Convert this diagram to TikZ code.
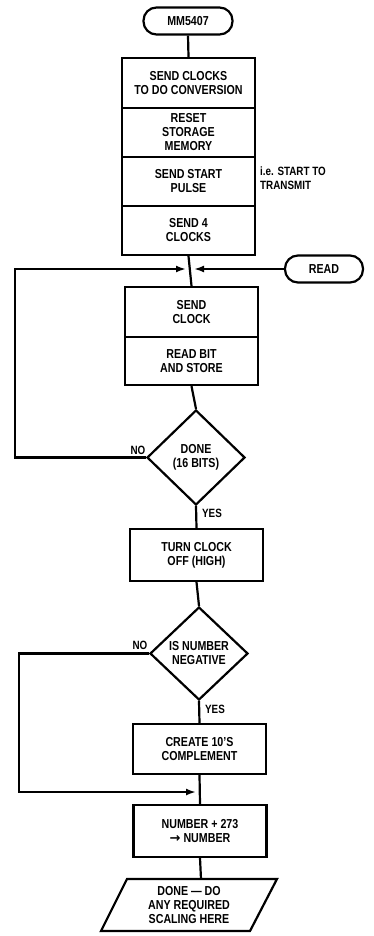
\documentclass[tikz,border=0pt]{standalone}
\usepackage{fontspec}
\setmainfont{Liberation Sans}[FakeStretch=0.82]
\newfontfamily\symfont{DejaVu Sans}
\usetikzlibrary{shapes.geometric,arrows.meta}
\begin{document}
\begin{tikzpicture}[x=1pt,y=-1pt,
  every node/.style={font=\bfseries\fontsize{13}{14}\selectfont, align=center, inner sep=1pt},
  box/.style={draw, line width=2.2pt, minimum width=133pt, inner sep=2pt},
  term/.style={draw, line width=2.2pt, rounded corners=13pt, minimum height=27pt},
  dec/.style={draw, diamond, line width=2.2pt, inner sep=0pt},
  link/.style={line width=2.2pt},
  arr/.style={line width=2.2pt, -{Latex[length=10pt,width=7pt]}, shorten >=4pt},
  lbl/.style={font=\bfseries\fontsize{12}{14}\selectfont}
]
\useasboundingbox (0,0) rectangle (373,936);

\node[term, minimum width=89pt] (start) at (188,21) {MM5407};
\node[box, minimum height=50pt] (b1) at (188.5,83) {SEND CLOCKS\\TO DO CONVERSION};
\node[box, minimum height=49pt] (b2) at (188.5,132.5) {RESET\\STORAGE\\MEMORY};
\node[box, minimum height=49pt] (b3) at (188.5,181.5) {SEND START\\PULSE};
\node[box, minimum height=49pt] (b4) at (188.5,230.5) {SEND 4\\CLOCKS};
\node[lbl, align=left, anchor=north west] (note) at (259,166) {i.e. START TO\\TRANSMIT};

\coordinate (m1) at (190,269);
\node[term, minimum width=78pt] (read) at (324,269) {READ};

\node[box, minimum height=50pt] (b5) at (191.5,312) {SEND\\CLOCK};
\node[box, minimum height=48pt] (b6) at (191.5,361) {READ BIT\\AND STORE};

\node[dec, minimum width=98pt, minimum height=95pt] (d1) at (196,457.5) {DONE\\(16 BITS)};
\node[lbl] (no1) at (138,450) {NO};
\node[lbl] (yes1) at (212,513) {YES};

\node[box, minimum height=52pt] (b7) at (196.5,555) {TURN CLOCK\\OFF (HIGH)};

\node[dec, minimum width=98pt, minimum height=93pt] (d2) at (199,653.5) {IS NUMBER\\NEGATIVE};
\node[lbl] (no2) at (140,645) {NO};
\node[lbl] (yes2) at (215,709) {YES};

\node[box, minimum height=50pt] (b8) at (199.5,749) {CREATE 10'S\\COMPLEMENT};
\coordinate (m2) at (200,792);
\node[box, minimum height=52pt] (b9) at (200,831) {NUMBER + 273\\{\symfont\bfseries →} NUMBER};

\draw[link] (127,879) -- (277,879) -- (250,931) -- (101,931) -- cycle;
\coordinate (ptop) at (201,879);
\node (done) at (189,905) {DONE — DO\\ANY REQUIRED\\SCALING HERE};

% connectors
\draw[link] (start.south) -- (b1.north);
\draw[link] (b4.south) -- (b5.north);
\draw[arr] (read.west) -- (m1);
\draw[arr] (d1.west) -- (15,457.5) -- (15,269) -- (m1);
\draw[link] (b6.south) -- (d1.north);
\draw[link] (d1.south) -- (b7.north);
\draw[link] (b7.south) -- (d2.north);
\draw[link] (d2.south) -- (b8.north);
\draw[arr] (d2.west) -- (19,653.5) -- (19,792) -- (m2);
\draw[link] (b8.south) -- (b9.north);
\draw[link] (b9.south) -- (ptop);
\end{tikzpicture}
\end{document}
